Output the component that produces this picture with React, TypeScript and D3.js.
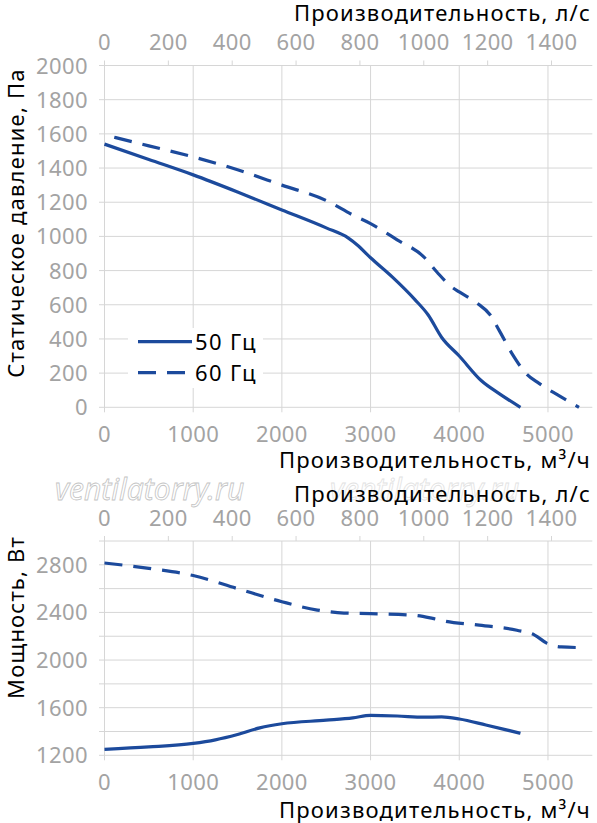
import * as d3 from "d3";
import { useEffect, useRef } from "react";

// Axis ticks
const flowTicks = [0, 1000, 2000, 3000, 4000, 5000];
const litreTicks = [0, 200, 400, 600, 800, 1000, 1200, 1400];
const pressureTicks = [0, 200, 400, 600, 800, 1000, 1200, 1400, 1600, 1800, 2000];
const powerGrid = [1200, 1400, 1600, 1800, 2000, 2200, 2400, 2600, 2800, 3000];
const powerLabels = [1200, 1600, 2000, 2400, 2800];

// Static pressure, Pa vs flow, m3/h
const pressure50: [number, number][] = [
    [0, 1540], [500, 1450], [1000, 1360], [1500, 1260], [2000, 1155], [2500, 1050],
    [2750, 990], [2850, 950], [3000, 875], [3250, 760], [3500, 630], [3650, 540],
    [3800, 410], [4000, 300], [4250, 155], [4450, 80], [4690, 0],
];
const pressure60: [number, number][] = [
    [110, 1580], [500, 1530], [1000, 1465], [1500, 1390], [2000, 1300], [2500, 1210],
    [2800, 1125], [3000, 1075], [3300, 980], [3600, 880], [3750, 790], [3900, 710],
    [4000, 675], [4200, 610], [4350, 540], [4450, 450], [4600, 310], [4750, 200],
    [4900, 140], [5100, 75], [5350, 0],
];

// Power, W vs flow, m3/h
const power50: [number, number][] = [
    [0, 1250], [500, 1270], [1000, 1300], [1250, 1330], [1500, 1375], [1750, 1430],
    [2000, 1465], [2500, 1495], [2800, 1515], [3000, 1535], [3300, 1530], [3600, 1520],
    [3800, 1522], [4000, 1505], [4300, 1455], [4690, 1385],
];
const power60: [number, number][] = [
    [0, 2815], [500, 2770], [1000, 2710], [1500, 2600], [2000, 2490], [2400, 2420],
    [2700, 2395], [3000, 2390], [3500, 2375], [3700, 2350], [3850, 2325], [4200, 2295],
    [4650, 2250], [4850, 2210], [4990, 2140], [5150, 2110], [5360, 2105],
];

const legend = ["50 Гц", "60 Гц"];

export default function App() {
    const svgRef = useRef<SVGSVGElement | null>(null);

    useEffect(() => {
        if (!svgRef.current) return;
        const svg = d3.select(svgRef.current);
        svg.selectAll("*").remove();

        const width = 597;
        const height = 823;
        const font = "'Noto Sans', sans-serif";
        const blue = "#1c4a9c";
        const grid = "#d6d6d6";
        const tickGray = "#a3a3a3";
        const dash = "18 11";

        svg.attr("width", width).attr("height", height);

        const x = d3.scaleLinear().domain([0, 5500]).range([104.5, 592.3]);
        const xLitre = d3.scaleLinear().domain([0, 5500 / 3.6]).range([104.5, 592.3]);
        const yP = d3.scaleLinear().domain([0, 2000]).range([407.3, 65.5]);
        const yW = d3.scaleLinear().domain([1200, 3000]).range([755.3, 541]);

        // watermarks
        const wm = (wx: number, color: string) =>
            svg.append("text")
                .attr("x", wx).attr("y", 500)
                .attr("font-family", font).attr("font-style", "italic")
                .attr("font-size", 30)
                .attr("fill", "white").attr("stroke", color).attr("stroke-width", 0.8)
                .text("ventilatorry.ru");
        wm(55, "#c4c4c4");
        wm(330, "#e2e2e2");

        const panel = (
            y: d3.ScaleLinear<number, number>,
            gridVals: number[],
            labelVals: number[],
            top: number,
            bottom: number,
            topLabelY: number,
            bottomLabelY: number,
            s50: [number, number][],
            s60: [number, number][],
        ) => {
            const g = svg.append("g");
            // horizontal gridlines + left ticks
            g.selectAll(".h").data(gridVals).enter().append("line")
                .attr("x1", 99).attr("x2", x(5500))
                .attr("y1", (d) => y(d)).attr("y2", (d) => y(d))
                .attr("stroke", grid).attr("stroke-width", 1);
            // vertical gridlines + bottom ticks
            g.selectAll(".v").data(flowTicks).enter().append("line")
                .attr("x1", (d) => x(d)).attr("x2", (d) => x(d))
                .attr("y1", top).attr("y2", bottom + 5)
                .attr("stroke", grid).attr("stroke-width", 1);
            // top l/s ticks
            g.selectAll(".t").data(litreTicks).enter().append("line")
                .attr("x1", (d) => xLitre(d)).attr("x2", (d) => xLitre(d))
                .attr("y1", top - 5).attr("y2", top)
                .attr("stroke", grid).attr("stroke-width", 1);

            const tickText = (sel: d3.Selection<SVGTextElement, number, SVGGElement, unknown>) =>
                sel.attr("font-family", font).attr("font-size", 22).attr("fill", tickGray)
                    .attr("letter-spacing", 0.4)
                    .text((d) => d);

            g.selectAll<SVGTextElement, number>(".yl").data(labelVals).enter().append("text")
                .attr("x", 88).attr("y", (d) => y(d) + 8)
                .attr("text-anchor", "end")
                .call(tickText);
            g.selectAll<SVGTextElement, number>(".xl").data(flowTicks).enter().append("text")
                .attr("x", (d) => x(d)).attr("y", bottomLabelY)
                .attr("text-anchor", "middle")
                .call(tickText);
            g.selectAll<SVGTextElement, number>(".tl").data(litreTicks).enter().append("text")
                .attr("x", (d) => xLitre(d)).attr("y", topLabelY)
                .attr("text-anchor", "middle")
                .call(tickText);

            const line = d3.line<[number, number]>()
                .x((d) => x(d[0]))
                .y((d) => y(d[1]))
                .curve(d3.curveMonotoneX);

            g.append("path").datum(s50)
                .attr("fill", "none").attr("stroke", blue).attr("stroke-width", 3.2)
                .attr("d", line);
            g.append("path").datum(s60)
                .attr("fill", "none").attr("stroke", blue).attr("stroke-width", 3.2)
                .attr("stroke-dasharray", dash)
                .attr("d", line);
            return g;
        };

        panel(yP, pressureTicks, pressureTicks, 65.5, 407.3, 49.5, 441.5, pressure50, pressure60);
        panel(yW, powerGrid, powerLabels, 541, 755.3, 525.5, 790, power50, power60);

        // legend
        const lg = svg.append("g");
        lg.append("rect").attr("x", 128).attr("y", 328).attr("width", 135).attr("height", 60)
            .attr("fill", "white");
        legend.forEach((name, i) => {
            const ly = 341.7 + i * 31;
            lg.append("line")
                .attr("x1", 138).attr("x2", 192).attr("y1", ly).attr("y2", ly)
                .attr("stroke", blue).attr("stroke-width", 3.2)
                .attr("stroke-dasharray", i === 1 ? dash : null);
            lg.append("text")
                .attr("x", 195).attr("y", ly + 8)
                .attr("font-family", font).attr("font-size", 22).attr("fill", "black")
                .attr("letter-spacing", 1.4)
                .text(name);
        });

        // axis titles
        const title = (tx: number, ty: number, text: string) =>
            svg.append("text")
                .attr("x", tx).attr("y", ty).attr("text-anchor", "end")
                .attr("font-family", font).attr("font-size", 22).attr("fill", "black")
                .attr("letter-spacing", 1.2)
                .text(text);
        title(591, 20.5, "Производительность, л/с");
        title(591, 468, "Производительность, м³/ч");
        title(591, 502, "Производительность, л/с");
        title(591, 818, "Производительность, м³/ч");

        const ytitle = (cy: number, text: string) =>
            svg.append("text")
                .attr("transform", `translate(23.5,${cy}) rotate(-90)`)
                .attr("text-anchor", "middle")
                .attr("font-family", font).attr("font-size", 22).attr("fill", "black")
                .attr("letter-spacing", 1.2)
                .text(text);
        ytitle(223, "Статическое давление, Па");
        ytitle(617.5, "Мощность, Вт");
    }, []);

    return <svg ref={svgRef} style={{ position: "absolute", left: 0, top: 0 }} />;
}
